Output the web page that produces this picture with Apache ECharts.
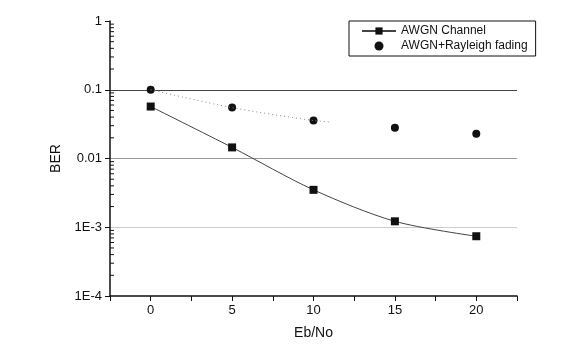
<!DOCTYPE html>
<html>
<head>
<meta charset="utf-8">
<script src="https://cdn.jsdelivr.net/npm/echarts@6/dist/echarts.min.js"></script>
<style>html,body{margin:0;padding:0;background:#fff}#c{width:562px;height:345px}</style>
</head>
<body>
<div id="c"></div>
<script>
var ebno = [0, 5, 10, 15, 20];
var awgn = [0.057, 0.0145, 0.0035, 0.00122, 0.00074];
var rayleigh = [0.1, 0.055, 0.0356, 0.028, 0.023];
var rayleighTrendX = [0, 5, 10, 11];
var rayleighTrend = [0.1, 0.055, 0.0356, 0.034];
var yMinorTicks = [];
[1e-4, 1e-3, 1e-2, 1e-1].forEach(function (d) { for (var k = 2; k <= 9; k++) yMinorTicks.push(+(d * k).toPrecision(3)); });

var chart = echarts.init(document.getElementById('c'), null, {renderer: 'canvas'});
var font = 'Arial, "Liberation Sans", sans-serif';
chart.setOption({
  animation: false,
  backgroundColor: '#fff',
  grid: {left: 110, right: 45, top: 21, bottom: 49},
  legend: {
    orient: 'vertical', left: 349, top: 21, width: 191,
    padding: [4, 8, 4, 12], itemGap: 3, itemWidth: 34, itemHeight: 9,
    borderColor: '#111', borderWidth: 1,
    textStyle: {fontFamily: font, fontSize: 12, color: '#111'},
    data: [
      {name: 'AWGN Channel'},
      {name: 'AWGN+Rayleigh fading', icon: 'circle'}
    ]
  },
  xAxis: {
    type: 'value', min: -2.5, max: 22.5, interval: 2.5,
    name: 'Eb/No', nameLocation: 'middle', nameGap: 30,
    nameTextStyle: {fontFamily: font, fontSize: 14, color: '#111'},
    axisLine: {onZero: false, lineStyle: {color: '#111', width: 1.5}},
    axisTick: {length: 5, lineStyle: {color: '#111'}},
    axisLabel: {fontFamily: font, fontSize: 13, color: '#111', margin: 8,
      formatter: function (v) { return (Math.abs(v % 5) < 1e-9) ? String(v) : ''; }},
    splitLine: {show: false}
  },
  yAxis: {
    type: 'log', min: 1e-4, max: 1, logBase: 10,
    name: 'BER', nameLocation: 'middle', nameGap: 47, nameRotate: 90,
    nameTextStyle: {fontFamily: font, fontSize: 14, color: '#111'},
    axisLine: {onZero: false, lineStyle: {color: '#111', width: 1.5}},
    axisTick: {length: 5, lineStyle: {color: '#111'}},
    axisLabel: {fontFamily: font, fontSize: 13, color: '#111', margin: 8,
      formatter: function (v) {
        if (v >= 0.01) return String(+v.toPrecision(3));
        return '1E' + Math.round(Math.log10(v));
      }},
    splitLine: {show: true, lineStyle: {color: ['#fff', '#ccc', '#999', '#444', '#fff'], width: 1}}
  },
  series: [
    {
      name: 'AWGN Channel', type: 'line', smooth: 0.3,
      data: ebno.map(function (x, i) { return [x, awgn[i]]; }),
      symbol: 'rect', symbolSize: 8,
      itemStyle: {color: '#111', opacity: 1},
      lineStyle: {color: '#444', width: 1}
    },
    {
      name: 'AWGN+Rayleigh fading', type: 'scatter',
      data: ebno.map(function (x, i) { return [x, rayleigh[i]]; }),
      symbol: 'circle', symbolSize: 8,
      itemStyle: {color: '#111', opacity: 1}
    },
    {
      name: 'trend', type: 'line', smooth: 0.3, symbol: 'none', silent: true,
      data: rayleighTrendX.map(function (x, i) { return [x, rayleighTrend[i]]; }),
      lineStyle: {color: '#888', width: 1, type: [1, 3]}
    },
    {
      name: 'minor', type: 'custom', silent: true,
      data: yMinorTicks.map(function (v) { return [0, v]; }),
      renderItem: function (params, api) {
        var p = api.coord([-2.5, api.value(1)]);
        return {type: 'line', shape: {x1: p[0], y1: p[1], x2: p[0] + 4, y2: p[1]},
          style: {stroke: '#111', lineWidth: 1}};
      }
    }
  ]
});
</script>
</body>
</html>
